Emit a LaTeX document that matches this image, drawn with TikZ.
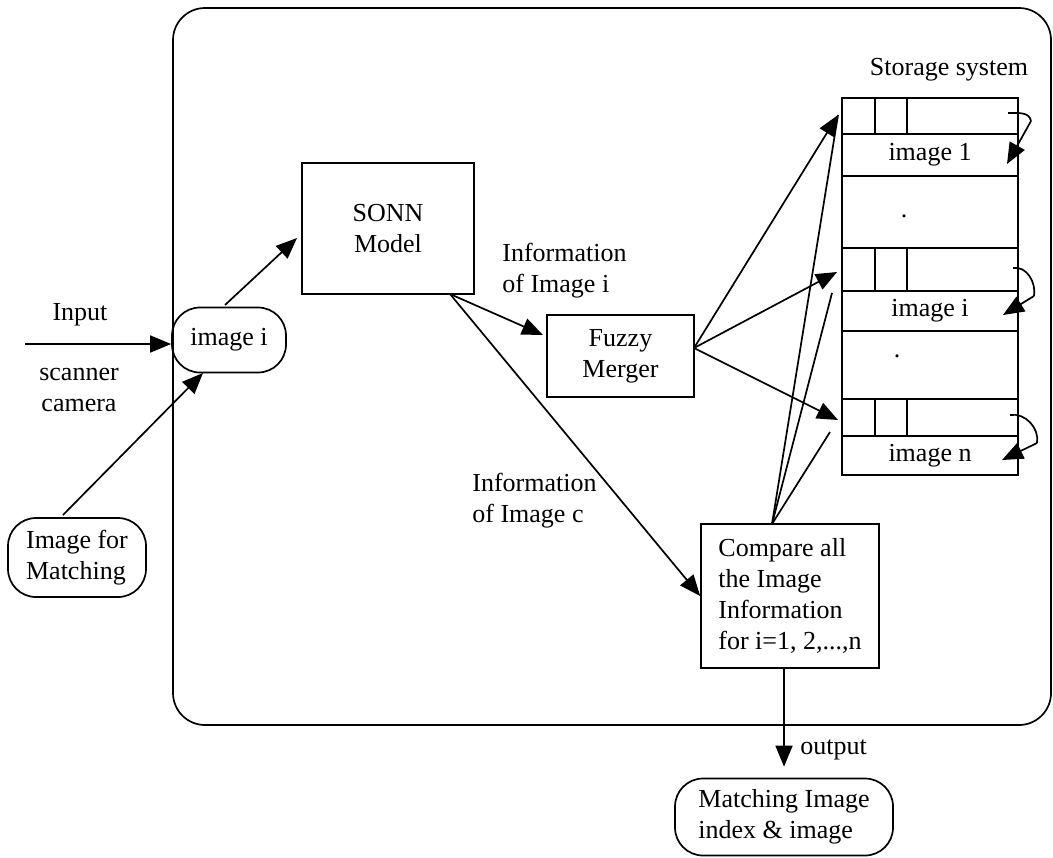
\documentclass[tikz,border=0pt]{standalone}
\usepackage{fontspec}
\setmainfont{Liberation Serif}
\usetikzlibrary{arrows.meta,calc}
\begin{document}
\begin{tikzpicture}[x=0.5pt,y=-0.5pt,
  every node/.style={font=\fontsize{13}{15.5}\selectfont},
  ln/.style={line width=0.85pt},
  box/.style={draw,line width=0.85pt,inner sep=0pt,align=center},
  stad/.style={draw,line width=0.85pt,rounded corners=14pt,inner sep=0pt,align=left},
  cell/.style={draw,line width=0.85pt,inner sep=0pt,minimum width=88pt},
  arr/.style={line width=0.85pt,-{Triangle[length=10.5pt,width=8.5pt]}},
  lbl/.style={inner sep=0pt,align=left}]
\useasboundingbox (0,0) rectangle (1053,857);
% outer frame
\draw[ln,rounded corners=16pt] (173,8) rectangle (1051,725);
% nodes
\node[stad,minimum width=57pt,minimum height=32.5pt,align=center] (imgi) at (229,340) {image i};
\node[stad,minimum width=69pt,minimum height=39.5pt] (imgm) at (77,557.5) {Image for\\Matching};
\node[stad,minimum width=109pt,minimum height=38.5pt] (match) at (784,817) {Matching Image\\index \& image};
\node[box,minimum width=86pt,minimum height=65.5pt] (sonn) at (388,228.5) {SONN\\Model};
\node[box,minimum width=73.5pt,minimum height=41pt] (fuzzy) at (620.5,356) {Fuzzy\\Merger};
\node[box,minimum width=89pt,minimum height=72pt,align=left,inner xsep=7pt] (comp) at (790,596) {Compare all\\the Image\\Information\\for i=1, 2,...,n};
% storage system
\node[lbl] (stl) at (949,70) {Storage system};
\node[cell,minimum height=18pt] (h1) at (930,116) {};
\node[cell,minimum height=21pt] (img1) at (930,155) {image 1};
\node[cell,minimum height=36pt] (d1) at (930,212) {};
\node[cell,minimum height=21.5pt] (hi) at (930,269.5) {};
\node[cell,minimum height=20pt] (imgir) at (930,311) {image i};
\node[cell,minimum height=34pt] (d2) at (930,365) {};
\node[cell,minimum height=18.5pt] (hn) at (930,417.5) {};
\node[cell,minimum height=19.5pt] (imgn) at (930,455.5) {image n};
\node[lbl] (dot1) at (904,216) {.};
\node[lbl] (dot2) at (897,356) {.};
\foreach \h in {h1,hi,hn}{
  \draw[ln] ($(\h.north west)+(34,0)$) -- ($(\h.south west)+(34,0)$);
  \draw[ln] ($(\h.north west)+(66,0)$) -- ($(\h.south west)+(66,0)$);
}
% labels
\node[lbl] (inl) at (80,315) {Input};
\node[lbl,align=center] (scl) at (79,390) {scanner\\camera};
\node[lbl,anchor=west] (infi) at (502,271) {Information\\of Image i};
\node[lbl,anchor=west] (infc) at (472,501) {Information\\of Image c};
\node[lbl,anchor=west] (outl) at (800,750) {output};
% coordinates
\coordinate (instart) at (25,344);
\coordinate (imst) at (63,515);
\coordinate (imtip) at (203,373);
\coordinate (ist) at (225,305);
\coordinate (stip) at (297,238);
\coordinate (sbot) at (450,294);
\coordinate (ftip) at (543,335);
\coordinate (fr) at (694,348);
\coordinate (t1) at (838,115);
\coordinate (ti) at (837,272);
\coordinate (tn) at (838,420);
\coordinate (ctop) at (772,524);
\coordinate (ei) at (832,293);
\coordinate (en) at (830,432);
\coordinate (r1a) at (1008,113);
\coordinate (r1b) at (1031,121);
\coordinate (r1c) at (1007,164);
\coordinate (ria) at (1013,268);
\coordinate (rib) at (1034,296);
\coordinate (ric) at (1003,315);
\coordinate (rna) at (1010,415);
\coordinate (rnb) at (1037,443);
\coordinate (rnc) at (1002,460);
% connectors
\draw[arr] (instart) -- (imgi.west |- instart);
\draw[arr] (imst) -- (imtip);
\draw[arr] (ist) -- (stip);
\draw[arr] (sbot) -- (ftip);
\draw[arr] (sbot) -- (comp.west);
\draw[arr] (fr) -- (t1);
\draw[arr] (fr) -- (ti);
\draw[arr] (fr) -- (tn);
\draw[ln] (ctop) -- (t1);
\draw[ln] (ctop) -- (ei);
\draw[ln] (ctop) -- (en);
\draw[arr] (comp.south -| match.north) -- ($(match.north)+(0,-11)$);
\draw[ln] (r1a) to[out=0,in=100] (r1b);
\draw[arr] (r1b) -- (r1c);
\draw[ln] (ria) to[out=10,in=80] (rib);
\draw[arr] (rib) -- (ric);
\draw[ln] (rna) to[out=10,in=80] (rnb);
\draw[arr] (rnb) -- (rnc);
\end{tikzpicture}
\end{document}
